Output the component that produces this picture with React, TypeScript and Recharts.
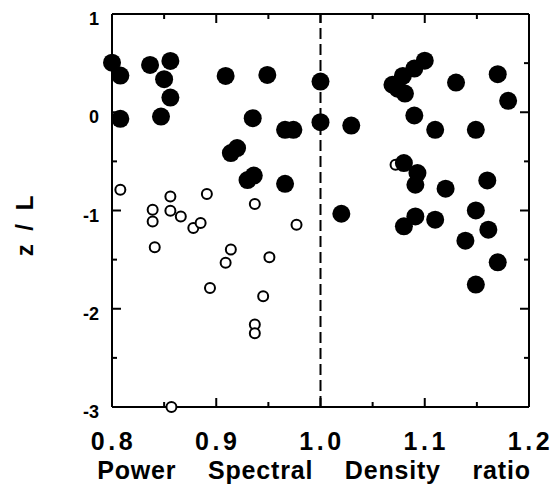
import { ScatterChart, Scatter, XAxis, YAxis, ReferenceLine } from 'recharts';

const FONT = '"Liberation Sans", Arial, Helvetica, sans-serif';

// tick values (minor ticks every 0.05 / 0.5)
const xTicks = [0.8, 0.85, 0.9, 0.95, 1.0, 1.05, 1.1, 1.15, 1.2];
const yTicks = [-3, -2.5, -2, -1.5, -1, -0.5, 0, 0.5, 1];

// filled circles
const filledRatio = [
    0.800, 0.808, 0.8365, 0.856, 0.850, 0.856, 0.808, 0.847, 0.909, 0.914,
    0.920, 0.949, 1.000, 0.935, 0.966, 0.974, 1.000, 1.0295, 1.100, 1.090,
    1.079, 1.069, 1.074, 1.081, 1.130, 1.170, 1.180, 1.090, 1.110, 1.149,
    1.080, 1.093, 1.091, 1.120, 1.160, 1.149, 1.091, 1.080, 1.110, 1.161,
    1.139, 1.170, 1.149, 0.936, 0.930, 0.966, 1.020,
];
const filledZL = [
    0.505, 0.373, 0.482, 0.522, 0.336, 0.149, -0.067, -0.044, 0.370, -0.415,
    -0.365, 0.380, 0.312, -0.060, -0.179, -0.179, -0.101, -0.135, 0.525, 0.445,
    0.370, 0.280, 0.240, 0.190, 0.302, 0.387, 0.116, -0.033, -0.179, -0.179,
    -0.517, -0.619, -0.738, -0.778, -0.694, -0.999, -1.060, -1.161, -1.094, -1.195,
    -1.307, -1.527, -1.754, -0.645, -0.690, -0.728, -1.033,
];

// open circles
const openRatio = [
    0.808, 0.839, 0.839, 0.856, 0.856, 0.866, 0.878, 0.885, 0.891, 0.841,
    0.914, 0.909, 0.894, 0.937, 0.977, 0.951, 0.945, 0.937, 0.937, 0.857,
    1.072,
];
const openZL = [
    -0.789, -0.992, -1.111, -0.857, -1.002, -1.060, -1.178, -1.127, -0.832, -1.375,
    -1.398, -1.533, -1.788, -0.934, -1.144, -1.477, -1.873, -2.160, -2.250, -3.000,
    -0.535,
];

const filledData = filledRatio.map((x, i) => ({ x, y: filledZL[i] }));
const openData = openRatio.map((x, i) => ({ x, y: openZL[i] }));

const isMajorX = (v: number) => Math.abs(v * 10 - Math.round(v * 10)) < 1e-6;
const isMajorY = (v: number) => Number.isInteger(v);

// plot box (matches chart margin + axis sizes below)
const W = 559;
const H = 487;
const LEFT = 112;
const TOP = 14;
const RIGHT = 30;
const BOTTOM = 80;
const plotW = W - LEFT - RIGHT;
const plotH = H - TOP - BOTTOM;
const px = (v: number) => LEFT + ((v - 0.8) / 0.4) * plotW;
const py = (v: number) => TOP + ((1 - v) / 4) * plotH;

// bottom axis: inward tick + label for the major values
const bottomTick = (props: any) => {
    const { x, y, payload } = props;
    const v = payload.value;
    const major = isMajorX(v);
    return (
        <g>
            <line x1={x} y1={y} x2={x} y2={y - (major ? 9 : 5)} stroke="#000" strokeWidth={2} />
            {major && (
                <text x={x + 1.5} y={y + 43} textAnchor="middle" fontSize={25} fontWeight="bold"
                    letterSpacing={3.5} fontFamily={FONT} fill="#000">
                    {v.toFixed(1)}
                </text>
            )}
        </g>
    );
};

const leftTick = (props: any) => {
    const { x, y, payload } = props;
    const v = payload.value;
    const major = isMajorY(v);
    return (
        <g>
            <line x1={x} y1={y} x2={x + (major ? 9 : 5)} y2={y} stroke="#000" strokeWidth={2} />
            {major && (
                <text x={x - 13} y={y + 11} textAnchor="end" fontSize={18} fontWeight="bold"
                    fontFamily={FONT} fill="#000">
                    {v}
                </text>
            )}
        </g>
    );
};

// top and right sides of the box, with their inward ticks, drawn under the chart
function Frame() {
    return (
        <svg width={W} height={H} style={{ position: 'absolute', left: 0, top: 0 }}>
            <line x1={LEFT} x2={LEFT + plotW} y1={TOP} y2={TOP} stroke="#000" strokeWidth={2} />
            <line x1={LEFT + plotW} x2={LEFT + plotW} y1={TOP} y2={TOP + plotH} stroke="#000" strokeWidth={2} />
            {xTicks.map(v => (
                <line key={`x${v}`} x1={px(v)} x2={px(v)} y1={TOP} y2={TOP + (isMajorX(v) ? 9 : 5)}
                    stroke="#000" strokeWidth={2} />
            ))}
            {yTicks.map(v => (
                <line key={`y${v}`} x1={LEFT + plotW} x2={LEFT + plotW - (isMajorY(v) ? 9 : 5)} y1={py(v)} y2={py(v)}
                    stroke="#000" strokeWidth={2} />
            ))}
        </svg>
    );
}

const filledDot = (p: any) => <circle cx={p.cx} cy={p.cy} r={9} fill="#000" />;
const openDot = (p: any) => <circle cx={p.cx} cy={p.cy} r={5} fill="#fff" stroke="#000" strokeWidth={2} />;

export default function App() {
    return (
        <div style={{ position: 'absolute', left: 0, top: 0, width: W, height: H, background: '#fff' }}>
            <Frame />
            <ScatterChart width={W} height={H} margin={{ top: TOP, right: RIGHT, left: 0, bottom: 0 }}>
                <XAxis
                    dataKey="x"
                    type="number"
                    domain={[0.8, 1.2]}
                    ticks={xTicks}
                    interval={0}
                    height={BOTTOM}
                    tickSize={0}
                    tickMargin={0}
                    tickLine={false}
                    axisLine={{ stroke: '#000', strokeWidth: 2 }}
                    tick={bottomTick}
                    label={{
                        content: () => (
                            <text x={314} y={479} textAnchor="middle" fontSize={25} fontWeight="bold"
                                fontFamily={FONT} fill="#000" style={{ wordSpacing: 24, letterSpacing: 0.8 }}>
                                Power Spectral Density ratio
                            </text>
                        ),
                    }}
                />
                <YAxis
                    dataKey="y"
                    type="number"
                    domain={[-3, 1]}
                    ticks={yTicks}
                    interval={0}
                    width={LEFT}
                    tickSize={0}
                    tickMargin={0}
                    tickLine={false}
                    axisLine={{ stroke: '#000', strokeWidth: 2 }}
                    tick={leftTick}
                    label={{
                        content: () => (
                            <text x={33} y={225} transform="rotate(-90, 33, 225)" textAnchor="middle"
                                fontSize={24} fontWeight="bold" fontFamily={FONT} fill="#000"
                                style={{ letterSpacing: 2, wordSpacing: 3 }}>
                                z / L
                            </text>
                        ),
                    }}
                />
                <ReferenceLine x={1.0} stroke="#000" strokeWidth={2} strokeDasharray="11 5" />
                <Scatter data={openData} shape={openDot} isAnimationActive={false} />
                <Scatter data={filledData} shape={filledDot} isAnimationActive={false} />
            </ScatterChart>
        </div>
    );
}
